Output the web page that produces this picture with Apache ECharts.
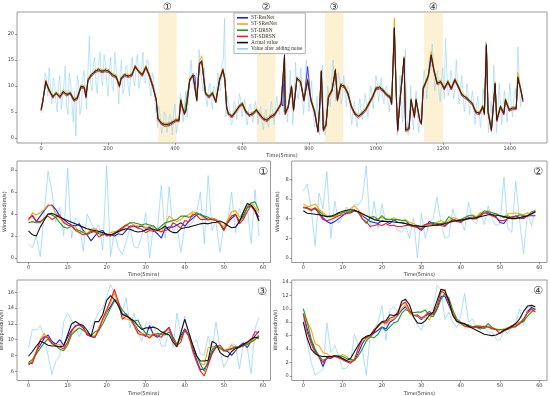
<!DOCTYPE html>
<html><head><meta charset="utf-8">
<script src="https://cdn.jsdelivr.net/npm/echarts@6/dist/echarts.min.js"></script>
<style>html,body{margin:0;padding:0;background:#fff}#c{width:550px;height:396px}</style>
</head><body><div id="c"></div>
<script>
const seriesNames = ['ST-ResNet','ST-SResNet','ST-DRSN','ST-SDRSN','Actual value','Value after adding noise'];
const panelLabels = ['①','②','③','④'];
const regionRanges = [[350,405],[645,700],[848,903],[1144,1200]];
const topTicks = [0,200,400,600,800,1000,1200,1400];
const topYTicks = [0,5,10,15,20];
const panelXTicks = [0,10,20,30,40,50,60];
const p1YTicks = [0,2,4,6,8], p2YTicks = [0,2,4,6,8], p3YTicks = [6,8,10,12,14,16], p4YTicks = [0,2,4,6,8,10,12,14];

// ---- top panel (time index, 5-min steps) ----
const topT = [0,5,14,24,35,45,56,66,77,87,98,108,119,129,134,140,150,161,171,182,
 192,203,213,224,234,239,250,260,271,281,292,302,313,323,334,344,349,360,370,381,
 391,402,412,417,423,428,433,444,454,459,465,473,480,491,501,512,522,533,543,549,
 554,559,570,580,591,601,612,622,633,643,654,664,675,685,696,706,717,722,727,729,
 738,748,754,764,775,785,796,806,817,827,832,837,843,851,858,869,879,885,895,906,
 916,927,937,948,958,969,979,990,1000,1011,1021,1032,1042,1047,1055,1061,1065,1073,1084,1089,
 1099,1105,1115,1120,1131,1136,1141,1152,1157,1165,1173,1183,1194,1204,1215,1225,1236,1246,1257,1272,
 1288,1298,1309,1319,1324,1330,1335,1345,1356,1361,1372,1382,1387,1398,1408,1419,1424,1432,1439];
const topActual = [5.4,7.0,10.8,9.2,7.9,8.6,7.9,8.9,8.3,8.6,7.3,7.6,9.9,9.7,7.9,11.2,12.1,12.8,13.1,12.8,
 13.0,12.8,12.1,11.8,10.0,11.5,12.1,11.9,12.1,13.7,12.8,12.1,13.7,12.1,9.9,7.3,3.7,2.8,2.5,2.6,
 2.9,3.4,3.4,7.3,5.7,4.7,5.4,11.2,12.1,12.1,7.3,14.4,14.7,8.6,7.9,8.6,7.0,11.2,13.1,11.2,
 6.0,4.7,4.1,5.0,6.0,6.6,5.0,4.4,4.7,5.4,4.4,3.7,3.4,4.1,4.4,5.4,6.6,6.3,16.0,4.7,
 6.0,9.9,5.4,11.5,10.8,7.3,11.2,7.3,5.0,1.2,6.0,12.8,1.5,2.5,7.9,9.2,13.1,7.3,10.2,9.9,
 8.6,6.0,4.7,4.1,4.7,5.4,6.6,7.9,9.5,9.7,9.2,8.3,7.9,6.6,21.2,8.0,1.5,8.0,15.4,1.5,
 1.8,7.3,4.1,7.3,3.4,2.8,9.5,11.2,12.1,16.0,13.1,10.5,10.8,9.5,10.8,9.5,11.2,9.9,8.3,7.6,
 6.6,5.0,4.7,6.0,4.7,17.9,5.0,1.5,10.5,3.4,6.0,4.7,7.3,5.4,5.7,5.7,11.6,9.5,7.2];
const topResNet = [5.6,7.2,10.6,9.0,8.1,8.4,8.1,8.7,8.5,8.4,7.1,7.9,9.7,9.9,8.2,11.0,12.3,12.6,13.3,12.6,
 13.2,12.6,12.3,11.6,10.3,11.3,12.3,11.7,12.3,13.5,12.6,12.3,13.5,12.3,10.2,7.1,3.9,2.6,2.7,2.4,
 3.1,3.2,3.6,7.0,5.9,4.5,5.6,11.0,12.3,11.9,7.6,14.2,14.9,8.4,8.1,8.4,7.2,11.0,13.3,11.0,
 6.3,4.5,4.3,4.8,6.2,6.4,5.2,4.2,4.9,5.2,4.6,3.5,3.6,3.9,4.6,5.2,6.8,6.1,15.6,5.0,
 5.8,10.1,5.6,11.3,11.0,7.1,13.7,7.1,5.2,1.5,5.8,12.5,1.8,2.3,8.1,9.0,12.8,7.5,10.0,10.1,
 8.4,6.2,4.5,4.3,4.5,5.6,6.4,8.1,9.3,9.9,9.0,8.5,7.6,6.8,20.8,8.2,1.8,7.8,15.0,1.8,
 2.0,7.1,4.3,7.1,3.6,3.0,9.3,11.4,11.9,15.6,13.3,10.3,11.0,9.3,11.0,9.3,11.4,9.7,8.5,7.4,
 6.8,4.8,4.9,5.8,4.9,17.4,5.2,1.8,10.2,3.6,5.8,4.9,7.1,5.6,5.5,5.9,11.2,9.7,7.0];
const topSResNet = [5.5,7.3,11.1,9.5,8.2,8.9,8.2,9.2,8.6,8.9,7.6,7.9,10.2,10.0,8.2,11.5,12.4,13.1,13.4,13.1,
 13.3,13.1,12.4,12.1,10.3,11.8,12.4,12.2,12.4,14.0,13.1,12.4,14.0,12.4,10.2,7.6,4.0,3.1,2.8,2.9,
 3.2,3.7,3.7,7.6,6.0,5.0,5.7,11.5,12.4,12.4,7.6,14.7,15.8,8.9,8.2,8.9,7.3,11.5,13.4,11.5,
 6.3,5.0,4.4,5.3,6.3,6.9,5.3,4.7,5.0,5.7,4.7,4.0,3.7,4.4,4.7,5.7,6.9,6.6,15.8,5.0,
 6.3,10.2,5.7,11.8,11.1,7.6,11.5,7.6,5.3,1.5,6.3,13.1,1.8,2.8,8.2,9.5,13.4,7.6,10.5,10.2,
 8.9,6.3,5.0,4.4,5.0,5.7,6.9,8.2,9.8,10.0,9.5,8.6,8.2,6.9,23.0,8.3,1.8,8.3,15.7,1.8,
 2.1,7.6,4.4,7.6,3.7,3.1,9.8,11.5,12.4,16.6,13.4,10.8,11.1,9.8,11.1,9.8,11.5,10.2,8.6,7.9,
 6.9,5.3,5.0,6.3,5.0,18.3,5.3,1.8,10.8,3.7,6.3,5.0,7.6,5.7,6.0,6.0,12.6,9.8,7.5];
const topDRSN = [5.2,6.8,10.5,9.3,7.7,8.8,7.7,9.0,8.1,8.8,7.4,7.5,10.0,9.5,8.0,11.0,11.9,12.9,12.9,12.9,
 12.8,12.9,11.9,11.9,9.8,11.6,11.9,12.0,11.9,13.5,12.9,11.9,13.5,11.9,9.6,7.5,3.5,2.9,2.4,2.8,
 2.8,3.5,3.2,7.2,5.5,4.9,5.2,11.3,11.9,12.2,7.1,14.2,14.5,8.8,7.7,8.8,6.8,11.3,12.9,11.3,
 5.8,4.8,4.0,5.1,5.9,6.7,4.8,4.5,4.5,5.5,4.2,3.8,3.2,4.2,4.2,5.5,6.4,6.4,15.4,4.5,
 6.2,9.7,5.2,11.6,10.6,7.4,11.0,7.4,4.8,1.3,6.2,12.6,1.4,2.7,7.7,9.4,12.9,7.2,10.4,9.7,
 8.8,5.8,4.9,4.0,4.9,5.2,6.8,7.7,9.7,9.5,9.4,8.1,8.1,6.4,20.5,7.8,1.4,8.2,15.2,1.4,
 1.7,7.5,4.0,7.5,3.2,2.7,9.7,11.0,12.3,15.8,12.9,10.7,10.6,9.7,10.6,9.7,11.0,10.1,8.1,7.8,
 6.4,5.2,4.5,6.2,4.5,17.6,4.8,1.4,10.3,3.2,6.2,4.5,7.5,5.2,5.9,5.5,11.8,9.3,7.4];
const topSDRSN = [5.3,6.9,11.0,8.9,7.6,8.5,7.6,8.6,8.0,8.5,7.0,7.3,9.6,9.4,7.6,10.9,11.8,12.5,12.8,12.5,
 12.7,12.5,11.8,11.5,9.7,11.2,11.8,11.6,11.8,13.9,12.5,11.8,13.4,11.8,9.6,7.0,3.4,2.5,2.2,2.3,
 2.6,3.1,3.1,7.0,5.4,4.4,5.1,10.9,11.8,11.8,7.0,14.1,14.4,8.3,7.6,8.3,6.7,10.9,12.8,10.9,
 5.7,4.4,3.8,4.7,5.7,6.3,4.7,4.1,4.4,5.1,4.1,3.4,3.1,3.8,4.1,5.1,6.3,6.0,15.5,4.4,
 5.7,9.6,5.1,11.2,10.5,7.0,10.9,7.0,4.7,1.0,5.7,12.9,1.2,2.2,7.6,8.9,13.0,7.0,9.9,9.6,
 8.3,5.7,4.4,3.8,4.4,5.1,6.3,7.6,9.2,9.4,8.9,8.0,7.6,6.3,21.0,7.7,1.2,7.7,15.1,1.2,
 1.5,7.0,3.8,7.0,3.1,2.5,9.2,10.9,11.8,15.8,12.8,10.2,10.5,9.2,10.5,9.2,10.9,9.6,8.0,7.3,
 6.3,4.7,4.4,5.7,4.4,17.7,4.7,1.2,10.2,3.1,5.7,4.4,7.0,5.1,5.4,5.4,11.3,9.2,6.9];
const topNoiseA = [[0,4.8],[8,9.5],[16,11.5],[24,13.5],[32,6.5],[40,10.5],[48,5.0],[56,12.0],[64,7.5],[72,13.8],
 [80,4.5],[88,11.0],[96,3.0],[104,0.3],[112,10.5],[120,6.0],[128,13.0],[136,5.5],[144,19.5],[152,9.0],
 [160,15.5],[168,8.5],[176,16.5],[184,10.0],[192,14.5],[200,8.0],[208,15.5],[216,9.0],[224,13.5],[232,6.5],
 [240,15.0],[248,9.5],[256,14.0],[264,8.0],[272,15.5],[280,10.0],[288,16.0],[296,11.0],[304,16.5],[312,10.5],
 [320,14.5],[328,8.0],[336,11.5],[344,4.5],[352,6.0],[360,0.8],[368,5.0],[376,1.0],[384,4.5],[392,0.5],
 [400,6.5],[408,2.0],[416,8.5],[424,3.0],[432,9.0],[440,7.0],[448,15.0],[456,9.5],[464,12.5],[472,17.0],
 [480,11.0],[488,13.5],[496,6.0],[504,10.5],[512,5.5],[520,9.0],[528,12.5],[536,9.0],[544,15.0],[548,23.0],
 [552,4.0],[560,6.5],[568,2.5],[576,7.0],[584,3.5],[592,8.5],[600,4.0],[608,7.5],[616,2.5],[624,6.5],
 [632,3.0],[640,7.0],[648,2.5],[656,6.0],[664,1.5],[672,5.5],[680,2.0],[688,7.0],[696,2.5],[704,8.0],
 [712,4.5],[720,10.0],[728,12.0],[736,3.0],[744,13.0],[752,2.5],[760,14.5],[768,7.5],[776,13.5],[784,4.5],
 [792,15.0],[800,5.0],[808,11.0],[816,2.0],[824,8.0],[832,0.5],[840,14.0],[848,0.5],[856,10.0],[864,6.0],
 [872,15.0],[880,7.0],[888,12.5],[896,6.5],[904,12.0],[912,6.0],[920,9.5],[928,2.5],[936,7.0],[944,2.0],
 [952,7.5],[960,3.5],[968,8.5],[976,4.0],[984,10.0],[992,5.5],[1000,12.0],[1008,7.0],[1016,11.5],[1024,6.5],
 [1032,10.0],[1040,5.0],[1048,9.0],[1056,22.0],[1064,0.5],[1072,12.0],[1080,3.0],[1088,17.0],[1096,0.5],[1104,10.0],
 [1112,1.5],[1120,9.0],[1128,1.0],[1136,6.0],[1144,13.0],[1152,7.5],[1160,15.5],[1168,18.0],[1176,9.0],[1184,13.0],
 [1192,7.0],[1200,13.5],[1208,19.0],[1216,8.0],[1224,13.0],[1232,7.5],[1240,15.0],[1248,6.5],[1256,12.0],[1264,5.0],
 [1272,10.5],[1280,4.5],[1288,9.0],[1296,2.5],[1304,8.0],[1312,2.0],[1320,9.5],[1328,18.5],[1336,1.0],[1344,7.0],
 [1352,14.0],[1360,1.0],[1368,10.5],[1376,2.5],[1384,9.0],[1392,3.0],[1400,10.5],[1408,4.0],[1416,9.5],[1424,17.5],
 [1432,6.0],[1439,8.0]];
const topNoiseB = [[4,6.0],[12,12.5],[20,8.0],[28,10.0],[36,11.5],[44,7.0],[52,10.5],[60,5.5],[68,10.0],[76,6.0],
 [84,12.5],[92,7.0],[100,9.0],[108,12.0],[116,4.5],[124,11.0],[132,8.5],[140,13.0],[148,10.5],[156,14.0],
 [164,10.5],[172,14.0],[180,11.0],[188,16.0],[196,10.5],[204,13.0],[212,10.0],[220,16.5],[228,11.0],[236,12.5],
 [244,8.5],[252,13.5],[260,10.0],[268,13.0],[276,11.0],[284,14.5],[292,9.5],[300,13.5],[308,11.0],[316,15.0],
 [324,10.0],[332,12.5],[340,6.5],[348,2.0],[356,4.0],[364,2.0],[372,4.5],[380,2.5],[388,3.5],[396,5.0],
 [404,1.0],[412,5.0],[420,6.5],[428,6.0],[436,4.0],[444,12.0],[452,11.0],[460,10.0],[468,10.0],[476,13.0],
 [484,9.0],[492,8.0],[500,9.5],[508,7.0],[516,10.0],[524,8.0],[532,10.0],[540,14.0],[556,8.0],[564,5.0],
 [572,3.0],[580,6.5],[588,5.0],[596,7.5],[604,6.0],[612,4.0],[620,5.5],[628,5.0],[636,4.5],[644,5.5],
 [652,5.0],[660,3.0],[668,4.5],[676,3.0],[684,5.0],[692,4.5],[700,6.0],[708,5.5],[716,7.5],[724,5.0],
 [732,8.0],[740,7.0],[748,8.0],[756,8.0],[764,9.0],[772,9.5],[780,8.0],[788,9.0],[796,9.5],[804,8.5],
 [812,6.0],[820,3.5],[828,3.0],[836,9.0],[844,5.0],[852,4.0],[860,8.0],[868,11.0],[876,10.5],[884,9.5],
 [892,11.0],[900,8.0],[908,9.0],[916,10.0],[924,5.0],[932,5.5],[940,3.5],[948,5.5],[956,5.0],[964,6.0],
 [972,6.5],[980,7.0],[988,8.5],[996,8.5],[1004,10.5],[1012,9.0],[1020,8.0],[1028,9.5],[1036,7.0],[1044,8.5],
 [1052,14.0],[1060,10.0],[1068,5.0],[1076,6.0],[1084,11.0],[1092,5.0],[1100,4.0],[1108,5.0],[1116,6.0],[1124,4.5],
 [1132,4.5],[1140,9.0],[1148,11.0],[1156,11.5],[1164,13.0],[1172,14.5],[1180,11.5],[1188,9.0],[1196,11.0],[1204,7.5],
 [1212,12.5],[1220,9.5],[1228,11.0],[1236,9.5],[1244,10.0],[1252,8.5],[1260,9.0],[1268,7.0],[1276,8.0],[1284,7.0],
 [1292,6.5],[1300,6.0],[1308,5.5],[1316,4.5],[1324,7.0],[1332,12.0],[1340,4.0],[1348,3.0],[1356,8.0],[1364,5.0],
 [1372,7.0],[1380,6.5],[1388,6.0],[1396,7.0],[1404,6.5],[1412,7.5],[1420,6.5],[1428,11.0],[1436,8.5]];

// ---- panel ① ----
const p1ResNet = [3.6,3.8,3.3,3.8,4.3,4.75,4.8,4.4,3.8,3.5,3.2,3.0,2.9,3.1,2.5,2.1,1.55,2.0,2.4,2.5,2.0,2.1,2.0,2.2,2.1,2.5,2.9,2.9,2.8,2.9,2.7,2.8,2.5,2.2,1.8,2.7,2.8,2.8,3.0,3.2,2.9,3.3,3.6,3.9,4.0,3.7,3.5,3.6,3.5,3.2,2.6,3.2,3.6,3.9,3.3,3.9,4.6,4.7,4.3,3.7];
const p1SResNet = [3.4,4.1,3.9,4.1,4.4,4.85,4.7,4.1,3.6,3.3,3.0,2.9,2.8,2.3,2.4,2.2,2.6,2.7,2.4,2.2,2.1,2.3,2.4,2.3,2.6,2.9,3.2,3.0,2.9,3.0,2.7,2.9,2.8,2.6,2.3,3.0,3.8,3.5,3.3,3.5,3.8,3.9,4.2,4.1,3.9,3.6,3.4,3.6,3.5,3.2,2.8,3.5,4.2,4.3,3.7,4.1,4.8,5.0,4.6,4.1];
const p1DRSN = [3.2,3.3,3.2,3.2,3.6,4.0,3.9,3.7,3.2,2.8,2.7,2.9,2.6,2.5,2.3,2.1,2.3,2.4,2.2,2.1,2.2,2.0,2.3,2.5,2.8,3.0,3.2,3.2,3.1,3.0,3.1,3.0,2.9,2.6,2.9,3.2,3.3,3.4,3.5,3.8,3.8,3.7,3.8,4.1,3.9,3.8,3.7,3.5,3.4,3.1,2.5,3.3,3.8,3.9,3.4,3.7,4.6,5.0,5.1,4.3];
const p1SDRSN = [3.5,3.9,3.3,3.3,3.6,3.8,3.5,3.7,3.9,3.2,3.0,2.9,2.5,2.3,2.1,2.2,2.4,2.4,1.9,2.1,2.1,2.0,2.2,2.5,2.7,3.0,2.8,2.9,2.7,2.6,2.3,2.5,2.4,2.5,2.4,2.5,2.6,3.2,3.0,2.7,3.4,3.3,4.0,3.9,3.5,3.5,3.5,3.5,3.4,3.1,2.5,3.2,3.8,4.0,3.1,3.5,4.2,4.8,4.2,3.4];
const p1Actual = [2.45,2.1,2.0,2.8,3.4,4.0,4.05,3.9,3.7,3.55,3.4,3.25,3.1,2.95,2.8,2.65,2.55,2.5,2.4,2.3,2.15,2.1,2.2,2.4,2.55,2.65,2.6,2.45,2.35,2.4,2.55,2.65,2.6,2.5,2.65,2.9,2.5,2.3,2.3,2.65,2.75,2.8,2.9,3.0,3.1,3.15,3.1,3.2,3.25,3.35,3.2,2.95,2.75,2.8,3.3,4.2,4.95,4.8,4.35,3.35];
const p1Noise = [1.3,0.9,2.0,0.1,4.0,7.9,6.0,3.3,4.6,2.0,8.2,1.8,3.6,3.3,0.6,4.0,3.2,2.5,3.0,0.7,8.4,0.1,2.4,0.9,0.3,1.5,2.7,1.0,0.9,2.0,4.1,0.0,3.0,2.5,6.6,1.8,6.5,2.3,3.0,0.5,2.8,3.0,3.2,4.0,6.0,1.3,7.5,2.5,3.3,0.5,2.9,3.4,6.0,2.3,4.5,3.4,4.7,1.3,6.2,2.0];

// ---- panel ② ----
const p2ResNet = [5.1,5.1,4.9,5.0,4.6,4.1,3.7,3.5,3.7,4.0,4.3,4.6,4.6,4.8,4.7,4.3,4.0,3.7,3.6,3.5,3.8,3.7,3.5,3.9,3.6,3.6,3.5,3.3,3.2,3.1,2.8,3.2,3.7,3.5,3.4,3.5,3.3,3.6,3.9,3.8,3.7,3.9,4.1,4.0,4.0,4.3,4.6,4.6,4.4,4.2,3.6,3.5,4.1,4.0,4.3,4.1,4.0,4.3,4.3,4.3];
const p2SResNet = [5.5,5.2,5.3,5.5,5.0,4.6,4.3,4.2,4.2,4.3,4.6,4.8,5.0,5.3,4.9,4.4,4.3,4.2,3.9,4.0,4.1,4.0,3.9,4.1,3.9,3.8,3.9,3.6,3.5,3.3,3.1,3.3,3.4,3.3,3.6,3.8,3.6,3.8,4.1,4.0,3.8,4.1,4.3,4.4,4.2,4.6,4.6,4.8,4.6,4.5,4.3,4.2,4.5,4.5,4.6,4.5,4.4,4.6,4.4,4.8];
const p2DRSN = [5.2,5.0,4.9,5.1,4.8,4.4,4.2,4.2,4.3,4.5,4.6,4.7,4.7,4.9,4.6,4.0,3.5,4.1,4.2,3.9,4.3,3.9,3.9,3.9,3.9,3.8,3.8,3.4,3.3,3.3,3.2,3.4,3.5,3.6,3.5,3.5,3.6,4.2,3.9,3.8,3.9,4.1,4.3,4.3,4.1,4.4,4.8,4.7,4.6,4.5,4.3,4.1,4.3,4.1,4.2,4.4,4.3,4.2,4.7,4.8];
const p2SDRSN = [5.1,5.1,4.8,5.1,4.5,3.9,3.8,3.9,4.1,4.3,4.4,4.5,4.6,4.8,4.7,4.0,3.7,3.2,3.3,3.4,3.3,3.5,3.3,3.3,3.2,3.2,3.3,3.3,3.2,3.2,2.9,3.4,3.5,3.4,3.3,3.3,3.2,3.6,3.8,3.7,3.6,3.9,4.0,4.0,4.0,4.3,4.6,4.5,4.3,4.1,3.8,3.8,4.0,4.2,4.2,4.0,4.1,4.3,4.5,4.7];
const p2Actual = [4.8,4.55,4.5,4.45,4.4,4.3,4.2,4.25,4.4,4.6,4.75,4.85,4.9,4.85,4.7,4.5,4.3,4.1,3.9,3.8,3.7,3.7,3.7,3.65,3.6,3.55,3.5,3.4,3.3,3.25,3.2,3.2,3.25,3.3,3.35,3.4,3.5,3.6,3.7,3.8,3.85,3.9,4.0,4.05,4.1,4.2,4.3,4.4,4.4,4.35,4.3,4.2,4.1,4.0,4.0,4.1,4.2,4.3,4.5,4.7];
const p2Noise = [6.8,7.5,5.0,1.2,6.6,5.0,8.8,2.0,5.8,3.5,4.2,5.2,4.6,5.5,5.4,6.0,9.4,3.0,5.8,3.0,5.5,3.5,3.0,3.5,2.8,2.6,3.3,2.0,4.1,0.0,4.5,2.0,3.5,4.0,6.2,3.5,2.0,2.2,5.0,3.6,3.8,2.8,5.7,3.8,3.5,4.6,3.4,5.3,4.0,3.3,3.5,8.2,3.0,2.6,7.8,3.8,0.4,4.6,3.3,5.0];

// ---- panel ③ ----
const p3ResNet = [6.8,7.2,8.5,9.3,10.2,10.6,9.8,9.4,10.0,9.3,10.3,11.2,11.7,11.9,11.5,10.6,10.4,10.3,11.5,12.5,13.5,14.2,15.1,14.8,13.2,13.3,12.6,12.1,11.2,10.8,10.4,11.8,10.6,10.3,10.8,11.1,11.6,10.3,9.4,10.5,11.4,10.6,9.0,7.5,6.2,6.3,7.0,8.4,9.1,8.9,8.6,8.5,8.0,8.6,9.2,9.6,9.0,9.8,10.5,11.1];
const p3SResNet = [6.9,7.3,8.6,10.0,10.8,10.0,9.5,9.3,9.4,9.0,9.6,10.8,11.2,11.5,11.2,10.8,10.5,10.5,11.5,12.5,13.6,14.7,16.0,14.5,13.0,12.6,12.5,12.0,11.0,10.8,10.6,10.3,10.8,10.7,10.6,11.0,11.5,10.0,9.5,10.2,11.1,10.5,9.3,8.0,7.0,6.8,9.0,9.1,9.2,8.9,8.5,8.8,9.3,9.0,9.1,9.2,9.5,9.8,10.2,10.6];
const p3DRSN = [7.1,7.5,8.2,8.9,9.6,10.1,9.6,9.2,8.8,8.6,9.3,10.6,11.1,11.5,11.2,10.9,10.5,11.0,11.2,12.0,13.0,14.0,14.9,14.6,13.8,13.2,12.6,12.3,12.5,11.5,10.8,10.6,10.6,10.8,10.7,10.6,11.0,10.2,9.4,10.2,11.2,10.5,9.3,8.0,6.9,6.0,7.4,8.7,9.3,9.0,8.6,8.7,8.9,9.1,9.1,9.2,9.4,9.7,10.0,10.5];
const p3SDRSN = [7.0,7.0,8.4,9.9,10.4,10.3,9.5,9.2,9.1,8.8,9.7,11.0,11.8,11.9,11.6,10.7,10.4,10.3,11.2,12.7,13.8,15.0,16.4,14.8,12.6,13.0,12.8,11.8,10.8,10.6,10.6,10.2,10.7,10.5,10.3,11.0,11.5,10.0,9.3,9.7,11.3,10.5,8.6,7.2,6.0,5.4,6.8,8.2,9.0,9.3,8.7,8.7,8.8,9.0,9.0,9.3,9.6,10.0,11.0,10.9];
const p3Actual = [7.9,8.5,9.2,9.8,9.6,9.3,9.2,9.2,9.1,9.2,10.6,12.0,12.3,12.0,11.8,11.2,10.4,12.3,12.3,13.2,15.0,15.6,15.1,14.3,13.2,13.0,12.7,12.4,11.8,11.3,11.5,11.5,11.6,11.4,11.0,10.8,10.6,9.7,9.1,10.9,12.6,11.0,9.4,8.0,7.3,7.3,7.4,9.8,9.5,8.4,8.0,7.8,8.5,8.9,9.1,9.4,9.7,10.1,10.3,10.2];
const p3Noise = [9.0,11.3,11.2,11.8,10.5,8.0,5.6,7.3,8.0,12.3,13.3,12.5,11.6,10.4,11.5,10.8,11.7,12.5,13.5,14.0,15.5,17.0,16.0,14.0,13.5,15.3,11.5,13.4,11.0,9.8,12.0,12.2,11.6,11.0,9.2,9.2,11.5,9.0,13.4,10.5,13.0,10.0,9.5,10.0,8.2,8.0,10.5,8.5,12.3,8.8,6.5,7.4,9.5,9.3,6.3,9.5,9.0,5.7,11.5,12.8];

// ---- panel ④ ----
const p4ResNet = [9.3,7.0,5.2,3.8,2.9,1.4,2.8,2.6,3.0,2.7,2.6,2.2,2.1,2.3,3.5,4.8,5.7,5.8,6.4,6.8,7.3,7.0,8.0,8.4,9.0,9.8,10.3,9.5,9.0,8.9,8.4,8.9,9.3,9.1,10.0,11.8,11.9,10.5,9.2,8.2,7.9,7.6,7.5,7.3,7.2,7.2,7.1,7.4,7.1,6.9,6.9,6.9,7.0,7.5,7.6,8.0,8.2,9.6,10.2,9.9];
const p4SResNet = [9.3,8.0,6.9,4.8,4.5,3.5,3.3,2.9,3.0,2.8,3.2,2.9,2.2,2.5,4.0,5.3,5.5,5.9,6.8,7.6,8.0,7.7,8.3,8.5,9.2,10.0,10.6,9.3,9.0,9.0,8.5,8.9,8.3,9.4,10.5,12.5,12.9,10.8,9.4,8.2,7.8,7.5,7.2,7.3,7.5,7.5,7.2,7.4,7.2,7.0,6.9,7.0,7.2,7.4,7.6,8.0,8.4,9.5,9.7,9.6];
const p4DRSN = [10.0,8.0,5.5,4.0,3.0,2.3,2.6,2.8,3.0,3.0,2.9,2.6,2.5,2.3,3.0,4.0,5.2,5.8,5.7,6.2,7.2,6.7,7.3,7.9,8.1,9.3,9.9,9.6,9.4,9.5,9.5,9.8,9.0,8.8,9.9,11.4,12.3,11.6,9.8,8.5,8.0,7.7,7.6,7.3,7.2,7.0,7.2,7.8,7.2,6.9,6.9,6.8,6.9,7.3,7.3,7.8,8.1,8.9,9.5,10.0];
const p4SDRSN = [9.2,6.5,4.8,3.5,2.8,2.0,2.6,2.7,2.9,2.7,2.4,2.1,1.9,2.4,4.2,5.5,5.8,6.0,6.9,7.3,8.0,7.9,8.6,8.8,9.5,10.6,11.0,9.8,9.0,9.1,8.6,9.0,9.6,9.2,10.5,12.6,12.3,10.9,9.3,8.2,7.8,7.4,7.3,7.3,7.4,7.3,7.4,7.3,7.0,6.9,6.3,6.7,7.0,7.2,7.4,7.8,8.5,9.4,10.0,9.5];
const p4Actual = [8.0,5.6,4.0,3.3,3.0,2.9,2.9,2.9,3.0,2.9,2.6,2.3,2.6,3.6,4.6,5.5,5.9,6.1,6.6,7.5,8.1,8.2,9.1,9.0,9.2,11.1,11.4,10.6,8.8,7.9,7.8,8.2,9.0,9.5,11.2,12.9,12.7,11.2,9.0,8.1,7.9,7.8,7.4,7.1,6.8,6.5,6.2,6.1,6.0,6.1,6.4,6.8,7.1,7.4,7.8,8.5,9.6,10.4,10.5,10.3];
const p4Noise = [8.5,5.0,2.0,0.1,0.5,1.0,7.9,3.5,4.5,3.0,1.0,1.2,2.0,6.2,4.5,4.0,0.1,6.0,7.0,8.0,10.5,5.3,9.8,10.3,9.5,11.0,10.8,9.5,8.7,7.6,6.8,8.7,9.5,10.0,13.5,12.8,8.4,9.5,8.0,7.2,8.9,12.3,8.0,8.5,7.2,7.0,7.3,6.5,6.5,5.5,5.3,6.8,6.3,7.3,8.0,10.0,7.5,10.2,10.3,10.0];

// ---------------- rendering ----------------
const colors = ['#1f1fff','#ffa500','#1e9e1e','#ff1a1a','#111111','#8fd3f5'];
const tIdx = Array.from({length:60},(_,i)=>i);
const FONT = 'DejaVu Sans';

const grids = [
  {left:17, top:12, width:530, height:131},
  {left:17, top:161, width:253.5, height:101.5},
  {left:291.7, top:161, width:255.3, height:101.5},
  {left:17, top:280, width:253.5, height:100.5},
  {left:291.7, top:280, width:255.3, height:100.5}
];
const xRanges = [[-72,1511],[-2.95,61.95],[-2.95,61.95],[-2.95,61.95],[-2.95,61.95]];
const yRanges = [[-1.0,24.2],[-0.42,8.82],[-0.47,9.87],[4.82,17.58],[-0.68,14.28]];
const xTicks = [topTicks,panelXTicks,panelXTicks,panelXTicks,panelXTicks];
const yTicks = [topYTicks,p1YTicks,p2YTicks,p3YTicks,p4YTicks];
const xNameGap = [10,10,10,11,11];
const yNameGap = [11,10,11.5,10,11.5];
const plain = v => String(v);

const xAxes = grids.map((g,i)=>({
  type:'value', gridIndex:i, min:xRanges[i][0], max:xRanges[i][1], position:'bottom',
  axisLine:{show:false, onZero:false}, splitLine:{show:false},
  axisTick:{show:true, customValues:xTicks[i], length:2, lineStyle:{color:'#555', width:0.6}},
  axisLabel:{customValues:xTicks[i], formatter:plain, fontSize:5, color:'#444', margin:3, fontFamily:FONT},
  name:'Time(5mins)', nameLocation:'middle', nameGap:xNameGap[i],
  nameTextStyle:{fontSize:5, color:'#333', fontFamily:FONT}
}));
const yAxes = grids.map((g,i)=>({
  type:'value', gridIndex:i, min:yRanges[i][0], max:yRanges[i][1], position:'left',
  axisLine:{show:false, onZero:false}, splitLine:{show:false},
  axisTick:{show:true, customValues:yTicks[i], length:2, lineStyle:{color:'#555', width:0.6}},
  axisLabel:{customValues:yTicks[i], formatter:plain, fontSize:5, color:'#444', margin:3, fontFamily:FONT},
  name:'Windspeed(m/s)', nameLocation:'middle', nameGap:yNameGap[i],
  nameTextStyle:{fontSize:5, color:'#333', fontFamily:FONT}
}));

function line(name, gi, pts, color, width, z, opacity){
  return {type:'line', name, xAxisIndex:gi, yAxisIndex:gi, data:pts, symbol:'none', showSymbol:false,
    lineStyle:{color, width, opacity:opacity==null?1:opacity}, itemStyle:{color}, z, silent:true,
    animation:false, emphasis:{disabled:true}};
}
const zip = (xs, ys) => xs.map((x,i)=>[x, ys[i]]);
const topNoise = topNoiseA.concat(topNoiseB).sort((a,b)=>a[0]-b[0]);

const series = [];
// shaded regions (top)
series.push({type:'line', name:'regions', xAxisIndex:0, yAxisIndex:0, data:[[0,5.4]], symbol:'none',
  lineStyle:{opacity:0}, z:0, silent:true, animation:false,
  markArea:{silent:true, itemStyle:{color:'rgba(247,212,120,0.33)'},
    label:{show:true, position:'top', distance:0, fontSize:10, color:'#333', fontFamily:FONT},
    data: regionRanges.map((r,i)=>[{xAxis:r[0], name:panelLabels[i]},{xAxis:r[1]}])}
});
// top
series.push(line(seriesNames[5],0,topNoise,colors[5],0.7,1,0.85));
[topResNet,topSResNet,topDRSN,topSDRSN,topActual].forEach((arr,k)=>{
  series.push(line(seriesNames[k],0,zip(topT,arr),colors[k],k===4?0.8:0.9,2));
});
// panels
const panels = [
  [p1ResNet,p1SResNet,p1DRSN,p1SDRSN,p1Actual,p1Noise],
  [p2ResNet,p2SResNet,p2DRSN,p2SDRSN,p2Actual,p2Noise],
  [p3ResNet,p3SResNet,p3DRSN,p3SDRSN,p3Actual,p3Noise],
  [p4ResNet,p4SResNet,p4DRSN,p4SDRSN,p4Actual,p4Noise]
];
panels.forEach((p,pi)=>{
  const gi = pi+1;
  series.push(line(seriesNames[5],gi,zip(tIdx,p[5]),colors[5],0.8,1,0.9));
  for(let k=0;k<5;k++) series.push(line(seriesNames[k],gi,zip(tIdx,p[k]),colors[k],1.1,2));
});

const panelLabelPos = [[263,172],[538,172],[262,292.5],[538,291]];
const graphic = panelLabelPos.map((pos,i)=>({
  type:'text', x:pos[0], y:pos[1], silent:true,
  style:{text:panelLabels[i], font:'11px "DejaVu Sans"', fill:'#333', align:'center', verticalAlign:'middle',
    textAlign:'center', textVerticalAlign:'middle'}
}));

const chart = echarts.init(document.getElementById('c'), null, {renderer:'canvas'});
chart.setOption({
  animation:false,
  backgroundColor:'#fff',
  grid: grids.map(g=>Object.assign({show:true, borderColor:'#9a9a9a', borderWidth:1, backgroundColor:'transparent',
    containLabel:false, outerBoundsMode:'none'}, g)),
  xAxis: xAxes, yAxis: yAxes,
  legend:{
    data: seriesNames.map(n=>({name:n, icon:'rect'})),
    orient:'vertical', left:234, top:13, itemWidth:11, itemHeight:1.6, itemGap:0.6,
    padding:[2,3,2,3], backgroundColor:'rgba(255,255,255,0.8)', borderColor:'#a0a0a0', borderWidth:0.8,
    textStyle:{fontSize:5.3, lineHeight:5.6, color:'#333', fontFamily:'Liberation Serif', padding:[0,0,0,-2]},
    selectedMode:false, z:10
  },
  graphic,
  series
});
</script></body></html>
